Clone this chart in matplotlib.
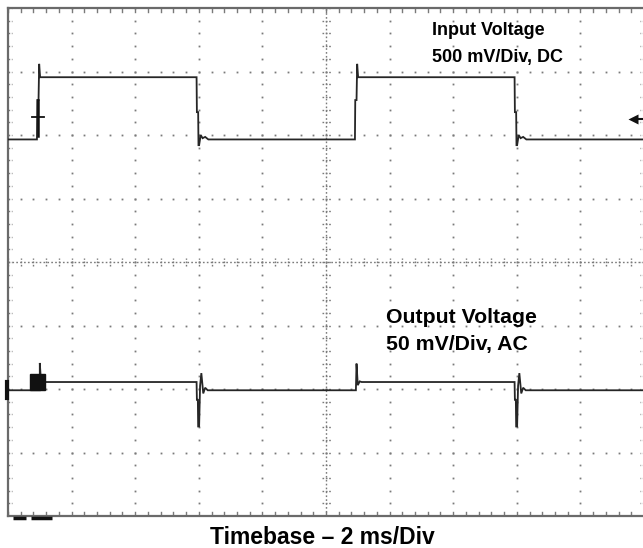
import numpy as np
import matplotlib
matplotlib.use("Agg")
import matplotlib.pyplot as plt
from matplotlib.patches import Rectangle

# ---------------- data (screen divisions) ----------------
# Input voltage trace (x: time in div, y: level in div from bottom)
in_t = [0.00, 0.455, 0.46, 0.48, 0.49, 0.505, 2.965, 2.97, 2.99, 2.995, 3.005, 3.03, 3.06, 3.10, 3.15,
        5.455, 5.46, 5.48, 5.49, 5.505, 7.965, 7.97, 7.99, 7.995, 8.005, 8.03, 8.06, 8.10, 8.15, 10.0]
in_v = [5.93, 5.93, 6.55, 6.55, 7.12, 6.91, 6.91, 6.36, 6.36, 5.84, 5.84, 6.00, 5.95, 5.97, 5.93,
        5.93, 6.55, 6.55, 7.12, 6.91, 6.91, 6.36, 6.36, 5.84, 5.84, 6.00, 5.95, 5.97, 5.93, 5.93]

# Output voltage trace
out_t = [0.00, 0.50, 0.50, 0.52, 0.55, 2.965, 2.97, 2.985, 2.99, 3.005, 3.02, 3.04, 3.07, 3.10, 3.14,
         5.47, 5.48, 5.50, 5.53, 5.56, 7.965, 7.97, 7.985, 7.99, 8.005, 8.02, 8.04, 8.07, 8.10, 8.14, 10.0]
out_v = [1.98, 1.98, 2.41, 2.10, 2.11, 2.11, 1.83, 1.83, 1.41, 1.41, 2.05, 2.25, 1.93, 2.02, 1.98,
         1.98, 2.40, 2.06, 2.12, 2.11, 2.11, 1.83, 1.83, 1.41, 1.41, 2.05, 2.25, 1.93, 2.02, 1.98, 1.98]

# Ch2 marker box and ground markers
box_t = [0.35, 0.58]
box_v = [1.98, 2.24]
trig_t = 0.47
trig_v = 6.28
arrow_t = 9.78
arrow_v = 6.25

labels_in = ["Input Voltage", "500 mV/Div, DC"]
labels_out = ["Output Voltage", "50 mV/Div, AC"]
xlabel = "Timebase \u2013 2 ms/Div"

NX, NY = 10, 8

# ---------------- figure ----------------
W, H = 643, 548
fig = plt.figure(figsize=(W / 100, H / 100), dpi=100)
ax = fig.add_axes([8 / W, (H - 516) / H, 636 / W, 508 / H])
ax.set_xlim(0, NX)
ax.set_ylim(0, NY)
ax.axis("off")

px = NX / 636.0   # div per pixel, x
py = NY / 508.0   # div per pixel, y

gcol = "#7a7a7a"
# grid dots on major lines (every minor division)
minors_x = np.arange(0, NX * 5 + 1) / 5.0
minors_y = np.arange(0, NY * 5 + 1) / 5.0
for i in range(1, NX):
    if i == NX // 2:
        continue
    ax.plot(np.full_like(minors_y, i), minors_y, ls="none", marker="s", ms=1.3,
            mec="none", mfc=gcol, zorder=1)
for j in range(1, NY):
    if j == NY // 2:
        continue
    ax.plot(minors_x, np.full_like(minors_x, j), ls="none", marker="s", ms=1.3,
            mec="none", mfc=gcol, zorder=1)

# center lines: dense dotted + cross ticks
ax.plot([0, NX], [NY / 2, NY / 2], color=gcol, lw=1.0, ls=(0, (1.2, 1.6)), zorder=1)
ax.plot([NX / 2, NX / 2], [0, NY], color=gcol, lw=1.0, ls=(0, (1.2, 1.6)), zorder=1)
for xx in minors_x:
    ax.plot([xx, xx], [NY / 2 - 4 * py, NY / 2 + 4 * py], color=gcol, lw=1.0,
            ls=(0, (1.2, 1.2)), zorder=1)
for yy in minors_y:
    ax.plot([NX / 2 - 4.5 * px, NX / 2 + 4.5 * px], [yy, yy], color=gcol, lw=1.0,
            ls=(0, (1.2, 1.2)), zorder=1)

# border ticks
for xx in minors_x:
    ax.plot([xx, xx], [NY, NY - 4 * py], color=gcol, lw=1.0, zorder=1)
    ax.plot([xx, xx], [0, 4 * py], color=gcol, lw=1.0, zorder=1)
for yy in minors_y:
    ax.plot([0, 4 * px], [yy, yy], color=gcol, lw=1.0, zorder=1, ls=(0, (1.2, 1.2)))
    ax.plot([NX, NX - 4 * px], [yy, yy], color=gcol, lw=1.0, zorder=1, ls=(0, (1.2, 1.2)))

# borders
bcol = "#6a6a6a"
ax.plot([0, 0], [0, NY], color=bcol, lw=1.6, clip_on=False, zorder=2)
ax.plot([0, NX], [NY, NY], color=bcol, lw=1.6, clip_on=False, zorder=2)
ax.plot([0, NX], [0, 0], color=bcol, lw=1.6, clip_on=False, zorder=2)

# traces
tcol = "#262626"
ax.plot(in_t, in_v, color=tcol, lw=1.3, zorder=3, solid_joinstyle="miter")
ax.plot(out_t, out_v, color=tcol, lw=1.3, zorder=3, solid_joinstyle="miter")

# markers
ax.add_patch(Rectangle((box_t[0], box_v[0]), box_t[1] - box_t[0], box_v[1] - box_v[0],
                       facecolor="#111111", edgecolor="#111111", lw=1.0, zorder=4))
ax.plot([trig_t - 0.09, trig_t + 0.10], [trig_v, trig_v], color="#111111", lw=1.3, zorder=4)
ax.plot([trig_t, trig_t], [trig_v - 0.3, trig_v + 0.27], color="#111111", lw=1.8, zorder=4)
ax.plot([arrow_t + 0.05, NX], [arrow_v, arrow_v], color="#111111", lw=1.5, zorder=4, clip_on=False)
ax.plot([arrow_t + 0.04], [arrow_v], marker="<", ms=7, color="#111111", mec="none", zorder=4)
ax.plot([-1.5 * px, -1.5 * px], [1.86, 2.11], color="#111111", lw=3, clip_on=False, zorder=4)
ax.plot([0.075, 0.29], [-2 * py, -2 * py], color="#111111", lw=2.5, clip_on=False, zorder=4, solid_capstyle="butt")
ax.plot([0.355, 0.69], [-2 * py, -2 * py], color="#111111", lw=2.5, clip_on=False, zorder=4, solid_capstyle="butt")

# text
fam = ["Liberation Sans", "DejaVu Sans"]
ax.text(6.67, 7.575, labels_in[0], ha="left", va="baseline", fontsize=13,
        fontweight="bold", family=fam, zorder=5)
ax.text(6.67, 7.15, labels_in[1], ha="left", va="baseline", fontsize=13,
        fontweight="bold", family=fam, zorder=5)
ax.text(5.94, 3.04, labels_out[0], ha="left", va="baseline", fontsize=15.3,
        fontweight="bold", family=fam, zorder=5)
ax.text(5.94, 2.614, labels_out[1], ha="left", va="baseline", fontsize=15.3,
        fontweight="bold", family=fam, zorder=5)
fig.text(322 / W, (H - 544.5) / H, xlabel, ha="center", va="baseline", fontsize=16.5,
         fontweight="bold", family=fam)

fig.savefig("out.png", dpi=100, facecolor="white")
